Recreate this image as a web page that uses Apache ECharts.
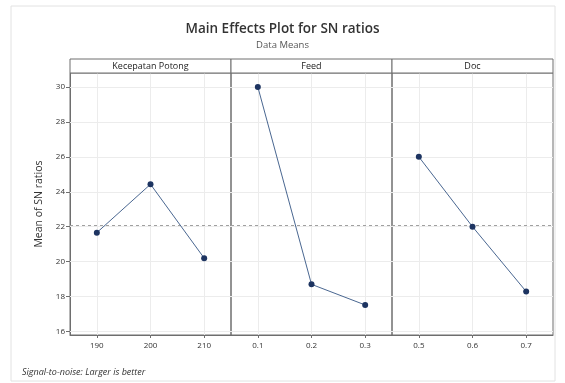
<!DOCTYPE html>
<html>
<head>
<meta charset="utf-8">
<script src="https://cdn.jsdelivr.net/npm/echarts@6/dist/echarts.min.js"></script>
<style>
html,body{margin:0;padding:0;background:#fff;}
#chart{width:565px;height:383px;}
</style>
</head>
<body>
<div id="chart"></div>
<script>
const panelTitles = ['Kecepatan Potong', 'Feed', 'Doc'];
const kecepatanLevels = ['190', '200', '210'];
const feedLevels = ['0.1', '0.2', '0.3'];
const docLevels = ['0.5', '0.6', '0.7'];
const kecepatanSN = [21.66, 24.43, 20.2];
const feedSN = [30.0, 18.7, 17.52];
const docSN = [26.0, 22.0, 18.29];
const yTicks = [16, 18, 20, 22, 24, 26, 28, 30];
const yMin = 15.8, yMax = 30.8;

const levels = [kecepatanLevels, feedLevels, docLevels];
const values = [kecepatanSN, feedSN, docSN];
const all = values.flat();
const grandMean = all.reduce((a, b) => a + b, 0) / all.length;

const gridLefts = [70, 231, 392];
const gridW = 161, gridTop = 73, gridH = 262;
const font = 'Open Sans, Noto Sans, sans-serif';

const grids = [], xAxes = [], yAxes = [], series = [], graphics = [];
for (let i = 0; i < 3; i++) {
  grids.push({left: gridLefts[i], top: gridTop, width: gridW, height: gridH,
    show: true, borderColor: '#6e6e6e', borderWidth: 1, backgroundColor: 'transparent'});
  xAxes.push({type: 'category', gridIndex: i, data: levels[i], boundaryGap: true,
    axisLine: {show: true, lineStyle: {color: '#6e6e6e'}},
    axisTick: {show: true, alignWithLabel: true, length: 3, lineStyle: {color: '#6e6e6e'}},
    axisLabel: {color: '#333', fontSize: 8, margin: 7, fontFamily: font},
    splitLine: {show: false}});
  yAxes.push({type: 'value', gridIndex: i, min: yMin, max: yMax,
    axisLine: {show: i === 0, lineStyle: {color: '#6e6e6e'}},
    axisTick: {show: i === 0, length: 4, customValues: yTicks, lineStyle: {color: '#6e6e6e'}},
    axisLabel: {show: i === 0, customValues: yTicks, color: '#333', fontSize: 8, margin: 5, fontFamily: font},
    splitLine: {show: false},
    name: i === 0 ? 'Mean of SN ratios' : '', nameLocation: 'middle', nameGap: 25,
    nameTextStyle: {color: '#333', fontSize: 10.5, fontFamily: font}});
  series.push({type: 'line', xAxisIndex: i, yAxisIndex: i, data: values[i], z: 1,
    symbol: 'none', lineStyle: {opacity: 0}, silent: true,
    markLine: {silent: true, symbol: 'none', label: {show: false}, animation: false,
      lineStyle: {color: '#ececec', type: 'solid', width: 1},
      data: yTicks.map(v => ({yAxis: v})).concat(levels[i].map(c => ({xAxis: c})))}});
  series.push({type: 'line', xAxisIndex: i, yAxisIndex: i, data: values[i], z: 2,
    symbol: 'none', lineStyle: {opacity: 0}, silent: true,
    markLine: {silent: true, symbol: 'none', label: {show: false}, animation: false,
      lineStyle: {color: '#a0a0a0', type: [3, 3], width: 1},
      data: [{yAxis: grandMean}]}});
  series.push({type: 'line', xAxisIndex: i, yAxisIndex: i, data: values[i], z: 5,
    symbol: 'circle', symbolSize: 6,
    itemStyle: {color: '#1d3461'},
    lineStyle: {color: '#4a6791', width: 1}, animation: false});
  graphics.push({type: 'rect', shape: {x: gridLefts[i], y: 59, width: gridW, height: 14},
    style: {fill: '#fff', stroke: '#6e6e6e', lineWidth: 1}, z: 10});
  graphics.push({type: 'text', x: gridLefts[i] + gridW / 2, y: 66,
    style: {text: panelTitles[i], fill: '#222', fontSize: 9, fontFamily: font,
      textAlign: 'center', textVerticalAlign: 'middle'}, z: 11});
}
graphics.unshift({type: 'rect', shape: {x: 11, y: 6, width: 544, height: 375},
  style: {fill: '#fff', stroke: '#e2e2e2', lineWidth: 1}, z: -10});
graphics.push({type: 'text', x: 22, y: 372,
  style: {text: 'Signal-to-noise: Larger is better', fill: '#333', fontSize: 9,
    fontStyle: 'italic', fontFamily: font, textVerticalAlign: 'middle'}, z: 11});

const chart = echarts.init(document.getElementById('chart'), null, {renderer: 'canvas'});
chart.setOption({
  backgroundColor: '#fff',
  animation: false,
  title: {text: 'Main Effects Plot for SN ratios', subtext: 'Data Means',
    left: 'center', top: 17, itemGap: 4,
    textStyle: {fontSize: 13.5, fontWeight: 600, color: '#333', fontFamily: font},
    subtextStyle: {fontSize: 9.5, color: '#555', fontFamily: font}},
  grid: grids, xAxis: xAxes, yAxis: yAxes, series: series, graphic: graphics
});
</script>
</body>
</html>
